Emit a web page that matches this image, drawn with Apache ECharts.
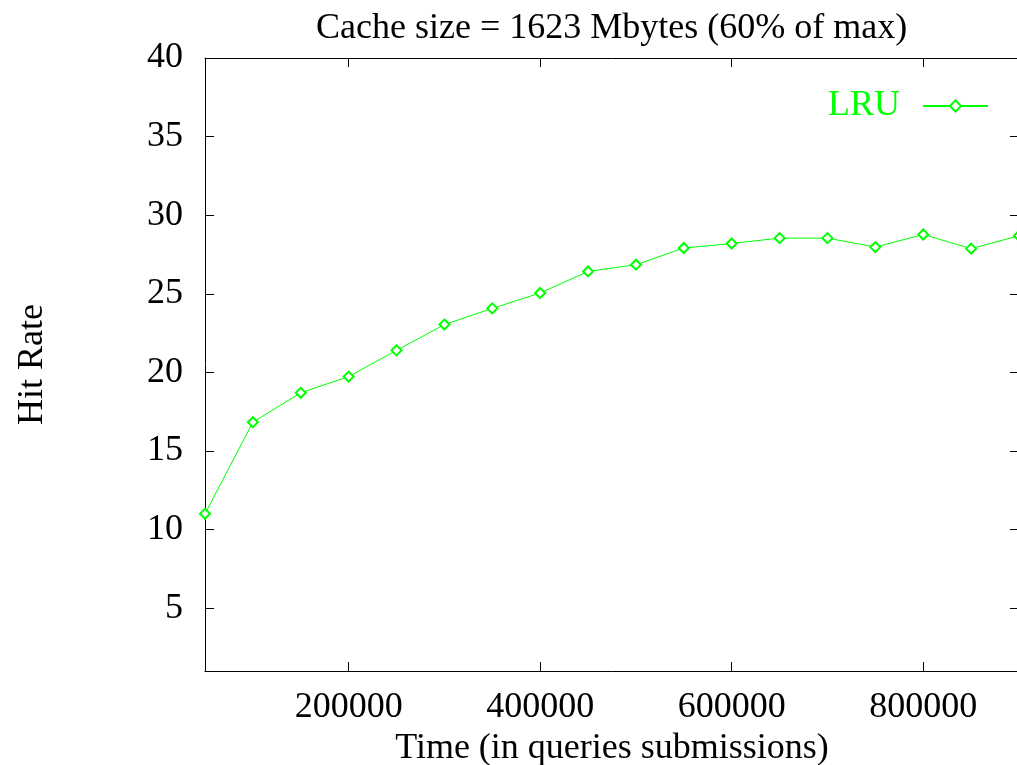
<!DOCTYPE html>
<html>
<head>
<meta charset="utf-8">
<script src="https://cdn.jsdelivr.net/npm/echarts@6/dist/echarts.min.js"></script>
<style>html,body{margin:0;padding:0;background:#fff;}#chart{width:1017px;height:765px;}</style>
</head>
<body>
<div id="chart"></div>
<script>
const titleText = 'Cache size = 1623 Mbytes (60% of max)';
const seriesName = 'LRU';
const xValues = [50000, 100000, 150000, 200000, 250000, 300000, 350000, 400000, 450000, 500000, 550000, 600000, 650000, 700000, 750000, 800000, 850000, 900000];
const hitRate = [11.0, 16.83, 18.7, 19.73, 21.4, 23.04, 24.07, 25.05, 26.42, 26.85, 27.91, 28.2, 28.54, 28.54, 27.97, 28.77, 27.87, 28.69];
const xTicks = [200000, 400000, 600000, 800000];
const yTicks = [5, 10, 15, 20, 25, 30, 35, 40];

const font = 'Liberation Serif, Times New Roman, serif';
const fs = 36;
const green = '#00ff00';
const chart = echarts.init(document.getElementById('chart'), null, {renderer: 'canvas'});
const tickStyle = {show: true, inside: true, length: 9, lineStyle: {color: '#000', width: 1}};
chart.setOption({
  animation: false,
  backgroundColor: '#fff',
  title: {
    text: titleText, left: 311, top: 6,
    textStyle: {fontFamily: font, fontSize: fs, fontWeight: 'normal', color: '#000'}
  },
  legend: {
    right: 23, top: 83, align: 'right',
    itemWidth: 65, itemHeight: 14,
    textStyle: {fontFamily: font, fontSize: fs, color: green, padding: [0, 18, 0, 0]},
    data: [seriesName]
  },
  grid: {left: 205, right: -2, top: 58, bottom: 94, containLabel: false, outerBoundsMode: 'none'},
  xAxis: [{
    type: 'value', min: 50000, max: 900000, position: 'bottom',
    name: 'Time (in queries submissions)', nameLocation: 'middle', nameGap: 56,
    nameTextStyle: {fontFamily: font, fontSize: fs, color: '#000'},
    axisLine: {show: true, onZero: false, lineStyle: {color: '#000', width: 1}},
    axisTick: Object.assign({customValues: xTicks}, tickStyle),
    axisLabel: {customValues: xTicks, formatter: v => String(v), fontFamily: font, fontSize: fs, color: '#000', margin: 19},
    splitLine: {show: false}
  }, {
    type: 'value', min: 50000, max: 900000, position: 'top',
    axisLine: {show: true, onZero: false, lineStyle: {color: '#000', width: 1}},
    axisTick: Object.assign({customValues: xTicks}, tickStyle),
    axisLabel: {show: false},
    splitLine: {show: false}
  }],
  yAxis: [{
    type: 'value', min: 1, max: 40, position: 'left',
    name: 'Hit Rate', nameLocation: 'middle', nameGap: 154, nameRotate: 90,
    nameTextStyle: {fontFamily: font, fontSize: fs, color: '#000'},
    axisLine: {show: true, onZero: false, lineStyle: {color: '#000', width: 1}},
    axisTick: Object.assign({customValues: yTicks}, tickStyle),
    axisLabel: {customValues: yTicks, fontFamily: font, fontSize: fs, color: '#000', margin: 22},
    splitLine: {show: false}
  }, {
    type: 'value', min: 1, max: 40, position: 'right',
    axisLine: {show: true, onZero: false, lineStyle: {color: '#000', width: 1}},
    axisTick: Object.assign({customValues: yTicks}, tickStyle),
    axisLabel: {show: false},
    splitLine: {show: false}
  }],
  series: [{
    name: seriesName, type: 'line',
    xAxisIndex: 0, yAxisIndex: 0,
    data: xValues.map((x, i) => [x, hitRate[i]]),
    symbol: 'emptyDiamond', symbolSize: 10,
    lineStyle: {color: green, width: 1},
    itemStyle: {color: green, borderColor: green, borderWidth: 1},
    clip: false
  }]
});
</script>
</body>
</html>
